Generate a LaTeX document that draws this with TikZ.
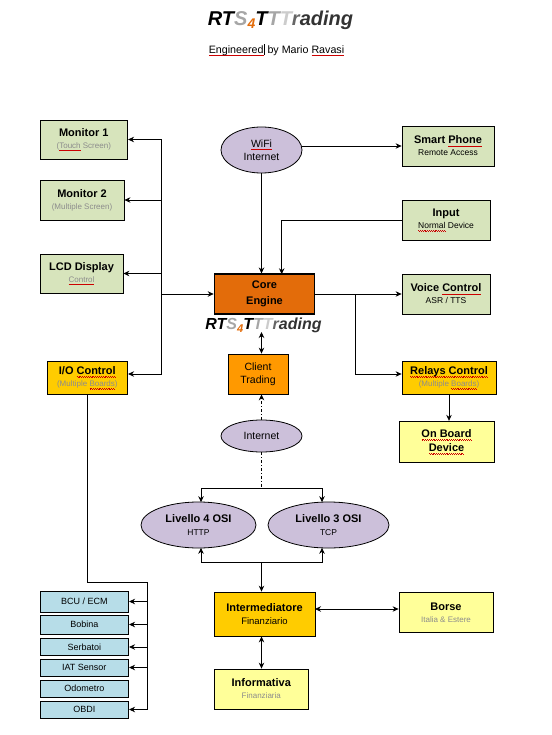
\documentclass[tikz,border=0pt]{standalone}
\usepackage{fontspec}
\setmainfont{Liberation Sans}
\usetikzlibrary{shapes.geometric, arrows.meta, positioning}
\definecolor{boxgreen}{HTML}{D7E4BC}
\definecolor{boxorange}{HTML}{E36C0A}
\definecolor{boxamber}{HTML}{FF9900}
\definecolor{boxgold}{HTML}{FFCC00}
\definecolor{boxyellow}{HTML}{FFFF99}
\definecolor{boxlilac}{HTML}{CCC0DA}
\definecolor{boxblue}{HTML}{B7DDE8}
\definecolor{logogray}{HTML}{A6A6A6}
\newcommand{\boxhead}[1]{{\fontsize{11}{12}\selectfont\bfseries #1}}
\newcommand{\boxnote}[1]{{\fontsize{8.5}{10}\selectfont #1}}
\newcommand{\boxfaint}[1]{{\fontsize{8}{10}\selectfont\color{black!45} #1}}
\newsavebox{\spellbox}
\newcommand{\spell}[1]{\sbox{\spellbox}{#1}\rlap{\textcolor{red!80!black}{\hbox to\wd\spellbox{\xleaders\hbox{\rule[-2pt]{.9pt}{.4pt}\rule[-2.5pt]{.9pt}{.4pt}}\hfil}}}\usebox{\spellbox}}
\newcommand{\rtslogo}{\bfseries\itshape RT\textcolor{logogray}{S}\raisebox{-.15em}{\textcolor{boxorange}{\scalebox{.7}{4}}}T\textcolor{logogray}{T}\textcolor{black!20}{T}\textcolor{black!60}{r}\textcolor{black!80}{ading}}
\begin{document}
\begin{tikzpicture}[x=1pt, y=-1pt,
    block/.style={rectangle, draw=black, line width=.8pt, inner sep=0pt, align=center, font=\fontsize{9.5}{12}\selectfont},
    cloud/.style={ellipse, draw=black, line width=.8pt, fill=boxlilac, inner sep=0pt, align=center, font=\fontsize{10.5}{13}\selectfont},
    sized/.style 2 args={minimum width=#1pt, minimum height=#2pt},
    sensor/.style={block, fill=boxblue, font=\fontsize{9}{10}\selectfont, minimum width=88.7pt},
    wire/.style={line width=.8pt},
    arrow/.style={line width=.8pt,-{Stealth[length=6pt,width=5.5pt]}},
    twoway/.style={line width=.8pt,{Stealth[length=6pt,width=5.5pt]}-{Stealth[length=6pt,width=5.5pt]}}]
    \useasboundingbox (0,0) rectangle (551,735);
    % header
    \node (toplogo) at (280.5,20) {\fontsize{20}{22}\selectfont\rtslogo};
    \node (byline) at (276.5,50) {\fontsize{10.7}{12}\selectfont\spell{Engineered}\rule[-2pt]{1pt}{11pt}~by Mario \spell{Ravasi}};
    % left column
    \node [block, fill=boxgreen, sized={87.7}{39}] (monitor1) at (83.8,139.5) {\boxhead{Monitor 1}\\\boxfaint{(\spell{Touch} Screen)}};
    \node [block, fill=boxgreen, sized={84}{40}] (monitor2) at (82,200) {\boxhead{Monitor 2}\\\boxfaint{(Multiple Screen)}};
    \node [block, fill=boxgreen, sized={83}{39}] (lcd) at (81.5,273.5) {\boxhead{LCD Display}\\\boxfaint{\spell{Control}}};
    \node [block, fill=boxgold, sized={80.7}{32.5}] (ioctrl) at (87.3,378) {\boxhead{I/O \spell{Control}}\\\boxfaint{(Multiple \spell{Boards})}};
    % centre column
    \node [cloud, sized={81}{46}] (wifi) at (261.5,150) {\spell{WiFi}\\Internet};
    \node [block, fill=boxorange, line width=1.6pt, sized={100}{39.5}] (core) at (264.5,294) {\boxhead{Core}\\[4pt]\boxhead{Engine}};
    \node (corelogo) at (263.5,325.5) {\fontsize{16}{18}\selectfont\rtslogo};
    \node [block, fill=boxamber, sized={60}{40}, font=\fontsize{10.5}{13}\selectfont] (client) at (258,374) {Client\\Trading};
    \node [cloud, sized={81}{32}] (inet) at (261.5,436) {Internet};
    \node [cloud, sized={115}{46}] (osi4) at (198.5,525) {\boxhead{Livello 4 OSI}\\\boxnote{HTTP}};
    \node [cloud, sized={121}{46}] (osi3) at (328.5,525) {\boxhead{Livello 3 OSI}\\\boxnote{TCP}};
    \node [block, fill=boxgold, sized={101}{44}] (intermed) at (264.5,614) {\boxhead{Intermediatore}\\[1pt]Finanziario};
    \node [block, fill=boxyellow, sized={94.6}{40}] (info) at (261.3,689) {\boxhead{Informativa}\\\boxfaint{Finanziaria}};
    % right column
    \node [block, fill=boxgreen, sized={92}{40}] (phone) at (448,146) {\boxhead{Smart \spell{Phone}}\\\boxnote{Remote Access}};
    \node [block, fill=boxgreen, sized={88}{40}] (input) at (446,220) {\boxhead{Input}\\\boxnote{\spell{Normal} Device}};
    \node [block, fill=boxgreen, sized={88}{40}] (voice) at (446,294) {\boxhead{Voice \spell{Control}}\\\boxnote{ASR / TTS}};
    \node [block, fill=boxgold, sized={94}{32.5}] (relays) at (449,378) {\boxhead{\spell{Relays Control}}\\\boxfaint{(Multiple \spell{Boards})}};
    \node [block, fill=boxyellow, sized={95}{41.5}] (onboard) at (446.5,442) {\boxhead{\spell{On Board}}\\[2pt]\boxhead{\spell{Device}}};
    \node [block, fill=boxyellow, sized={94}{40.5}] (borse) at (446,612.3) {\boxhead{Borse}\\\boxfaint{Italia \& Estere}};
    % sensor list
    \node [sensor, minimum height=21pt] (bcu) at (84.3,601.5) {BCU / ECM};
    \node [sensor, minimum height=19pt, below of=bcu, node distance=23pt] (bobina) {Bobina};
    \node [sensor, minimum height=16.5pt, below of=bobina, node distance=22.5pt] (serbatoi) {Serbatoi};
    \node [sensor, minimum height=17pt, below of=serbatoi, node distance=20.5pt] (iat) {IAT Sensor};
    \node [sensor, minimum height=17pt, below of=iat, node distance=21pt] (odometro) {Odometro};
    \node [sensor, minimum height=17pt, below of=odometro, node distance=21pt] (obdi) {OBDI};
    % junctions
    \coordinate (bus) at (161.7,140);
    \coordinate (boardline) at (0,374);
    \coordinate (sensbus) at (147.7,582.7);
    \coordinate (inputdrop) at (281.7,274.25);
    \coordinate (relaybus) at (355.7,294);
    \coordinate (logofoot) at (261.5,332);
    \coordinate (split) at (261.5,488);
    \coordinate (osi4top) at (201,502.2);
    \coordinate (osi3top) at (322,502.2);
    \coordinate (osi4foot) at (201,547.8);
    \coordinate (osi3foot) at (322,547.8);
    \coordinate (join) at (261.5,562);
    \coordinate (borselink) at (315,609);
    % connectors
    \draw [wire] (bus |- monitor1.east) -- (bus |- boardline);
    \draw [arrow] (bus |- monitor1.east) -- (monitor1.east);
    \draw [arrow] (bus |- monitor2.east) -- (monitor2.east);
    \draw [arrow] (bus |- lcd.east) -- (lcd.east);
    \draw [arrow] (bus |- boardline) -- (ioctrl.east |- boardline);
    \draw [arrow] (bus |- core.west) -- (core.west);
    \draw [arrow] (wifi.south) -- (wifi.south |- core.north);
    \draw [arrow] (wifi.east |- phone.west) -- (phone.west);
    \draw [arrow] (input.west) -| (inputdrop);
    \draw [arrow] (core.east) -- (voice.west);
    \draw [arrow] (relaybus) |- (relays.west |- boardline);
    \draw [arrow] (relays.south) -- (relays.south |- onboard.north);
    \draw [twoway] (logofoot) -- (logofoot |- client.north);
    \draw [arrow, dashdotted] (inet.north) -- (inet.north |- client.south);
    \draw [wire, dashdotted] (inet.south) -- (split);
    \draw [arrow] (split) -| (osi4top);
    \draw [arrow] (split) -| (osi3top);
    \draw [arrow] (join) -| (osi4foot);
    \draw [arrow] (join) -| (osi3foot);
    \draw [arrow] (join) -- (join |- intermed.north);
    \draw [twoway] (join |- intermed.south) -- (join |- info.north);
    \draw [twoway] (borselink) -- (borselink -| borse.west);
    \draw [wire] (ioctrl.south) |- (sensbus) -- (sensbus |- obdi.east);
    \draw [arrow] (sensbus |- bcu.east) -- (bcu.east);
    \draw [arrow] (sensbus |- bobina.east) -- (bobina.east);
    \draw [arrow] (sensbus |- serbatoi.east) -- (serbatoi.east);
    \draw [arrow] (sensbus |- iat.east) -- (iat.east);
    \draw [arrow] (sensbus |- obdi.east) -- (obdi.east);
\end{tikzpicture}
\end{document}
